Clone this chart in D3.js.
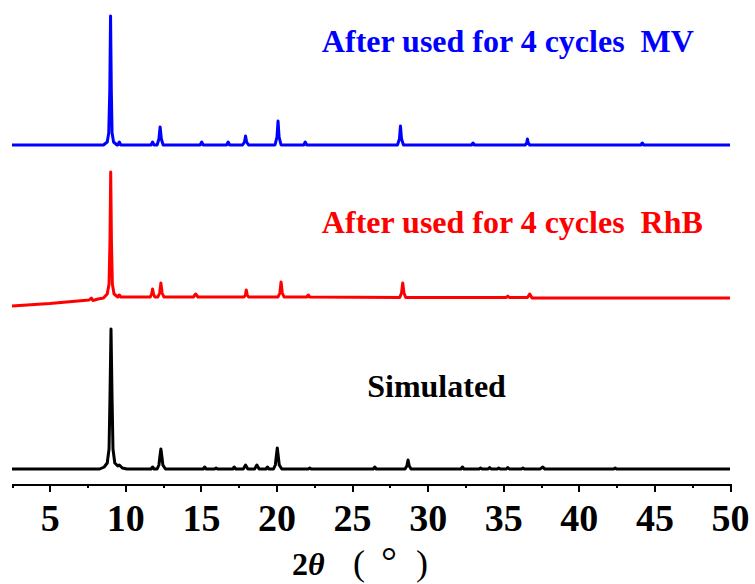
<!DOCTYPE html>
<html lang="en">
<head>
    <meta charset="UTF-8">
    <title>XRD</title>
    <style>
        body { margin: 0; background: #fff; }
    </style>
</head>
<body>
<div id="sv"></div>
<script src="https://cdn.jsdelivr.net/npm/d3@7"></script>
<script>
    // 2theta (deg), intensity (a.u.)
    var mvData = [
        [2.5,0],[8.55,0],[8.8,3],[8.9,12],[8.97,55],[9.02,129],[9.07,55],[9.12,12],[9.22,3],[9.45,0],
        [9.5,0],[9.6,3],[9.7,0],
        [11.7,0],[11.8,3],[11.9,0],
        [12.1,0],[12.22,6],[12.3,18],[12.38,6],[12.5,0],
        [14.95,0],[15.05,3],[15.15,0],
        [16.7,0],[16.8,3],[16.9,0],
        [17.75,0],[17.88,3],[17.95,9],[18.02,3],[18.15,0],
        [19.9,0],[20.03,8],[20.1,24],[20.17,8],[20.3,0],
        [21.8,0],[21.9,3],[22.0,0],
        [28.0,0],[28.13,6],[28.2,19],[28.27,6],[28.4,0],
        [32.9,0],[33.0,2],[33.1,0],
        [36.45,0],[36.55,2],[36.6,6],[36.65,2],[36.75,0],
        [44.1,0],[44.2,2],[44.3,0],
        [50,0]
    ];
    var rhbData = [
        [2.5,-8],[5,-5.5],[7.6,-2],[7.75,0],[7.85,-2.5],[8.2,-1],[8.55,0],[8.8,4],[8.92,14],[8.98,55],
        [9.03,126],[9.08,55],[9.14,14],[9.25,4],[9.5,1],
        [9.6,3],[9.7,1],
        [11.65,1],[11.74,4],[11.8,9],[11.86,4],[11.95,1],
        [12.15,1],[12.27,5],[12.35,15],[12.43,5],[12.55,1],
        [14.5,1],[14.65,4],[14.8,1],
        [17.85,1],[17.94,3],[18.0,8],[18.06,3],[18.15,1],
        [20.1,1],[20.22,5],[20.3,16],[20.38,5],[20.5,1],
        [22.0,1],[22.1,3],[22.2,1],
        [28.15,0.5],[28.27,5],[28.35,15],[28.43,5],[28.55,0.5],
        [35.2,0.5],[35.3,2],[35.4,0.5],
        [36.6,0.5],[36.75,4],[36.9,0],
        [50,0]
    ];
    var simData = [
        [2.5,0],[8.3,0],[8.6,2],[8.8,6],[8.92,20],[8.98,70],[9.05,140],[9.12,70],[9.18,20],[9.3,6],
        [9.5,3],[9.6,4],[9.8,1],[10.1,0],
        [11.7,0],[11.8,2],[11.9,0],
        [12.1,0],[12.22,4],[12.28,12],[12.35,20],[12.42,12],[12.48,4],[12.65,0],
        [15.15,0],[15.25,2],[15.35,0],
        [15.9,0],[16.0,1],[16.1,0],
        [17.1,0],[17.2,2],[17.3,0],
        [17.8,0],[17.95,4],[18.1,0],
        [18.55,0],[18.7,4],[18.85,0],
        [19.3,0],[19.4,2],[19.5,0],
        [19.8,0],[19.92,4],[19.98,12],[20.05,21],[20.12,12],[20.18,4],[20.35,0],
        [22.1,0],[22.2,1],[22.3,0],
        [26.4,0],[26.5,2],[26.6,0],
        [28.5,0],[28.62,3],[28.7,9],[28.78,3],[28.9,0],
        [32.2,0],[32.3,2],[32.4,0],
        [33.4,0],[33.5,1],[33.6,0],
        [34.0,0],[34.1,1.5],[34.2,0],
        [34.6,0],[34.7,1],[34.8,0],
        [35.2,0],[35.3,1.5],[35.4,0],
        [36.2,0],[36.3,1],[36.4,0],
        [37.45,0],[37.6,2],[37.75,0],
        [42.3,0],[42.4,1],[42.5,0],
        [50,0]
    ];

    var seriesNames = ["After used for 4 cycles  MV", "After used for 4 cycles  RhB", "Simulated"];
    var majorTicks = [5, 10, 15, 20, 25, 30, 35, 40, 45, 50];
    var minorTicks = [2.5, 7.5, 12.5, 17.5, 22.5, 27.5, 32.5, 37.5, 42.5, 47.5];

    var width = 755, height = 584;
    var axisY = 484;
    var serif = "Liberation Serif";

    var x = d3.scaleLinear().domain([2.5, 50]).range([12, 730]);
    var y = d3.scaleLinear().domain([0, 484]).range([484, 0]);

    // vertical stacking of the patterns
    var traces = [
        {data: mvData,  offset: 339, color: "#0000ff", name: seriesNames[0], lx: 23.0, ly: 52},
        {data: rhbData, offset: 186, color: "#ff0000", name: seriesNames[1], lx: 23.0, ly: 233},
        {data: simData, offset: 15,  color: "#000000", name: seriesNames[2], lx: 26.0, ly: 397}
    ];

    var svg = d3.select("#sv").append("svg")
        .attr("width", width)
        .attr("height", height);

    traces.forEach(function (t) {
        var line = d3.line()
            .x(d => x(d[0]))
            .y(d => y(d[1] + t.offset));
        svg.append("path")
            .datum(t.data)
            .attr("fill", "none")
            .attr("stroke", t.color)
            .attr("stroke-width", 3)
            .attr("stroke-linejoin", "round")
            .attr("d", line);
        svg.append("text")
            .attr("x", x(t.lx))
            .attr("y", t.ly)
            .attr("fill", t.color)
            .attr("font-family", serif)
            .attr("font-weight", "bold")
            .attr("font-size", 32)
            .attr("xml:space", "preserve")
            .style("white-space", "pre")
            .text(t.name);
    });

    function styleAxis(g) {
        g.selectAll("path, line").attr("stroke", "#000").attr("stroke-width", 2).attr("shape-rendering", "crispEdges");
        g.attr("font-family", serif).attr("font-size", 38).attr("font-weight", "bold");
    }

    // minor ticks
    svg.append("g")
        .attr("transform", `translate(0,${axisY})`)
        .call(d3.axisBottom(x).tickValues(minorTicks).tickSize(4).tickSizeOuter(0).tickFormat(""))
        .call(styleAxis);

    var xa = svg.append("g")
        .attr("transform", `translate(0,${axisY})`)
        .call(d3.axisBottom(x).tickValues(majorTicks).tickSize(8).tickSizeOuter(0).tickPadding(12).tickFormat(d3.format("d")))
        .call(styleAxis);
    xa.selectAll("text").attr("fill", "#000").attr("dy", "0.71em");

    // axis title 2θ（°）
    var title = svg.append("text")
        .attr("y", 575)
        .attr("font-family", serif)
        .attr("font-size", 32)
        .attr("fill", "#000");
    title.append("tspan").attr("x", 292).attr("font-weight", "bold").text("2");
    title.append("tspan").attr("font-weight", "bold").attr("font-style", "italic").text("θ");
    title.append("tspan").attr("x", 353).attr("font-size", 36).text("(");
    title.append("tspan").attr("x", 381).attr("font-size", 40).text("°");
    title.append("tspan").attr("x", 416).attr("font-size", 36).text(")");
</script>
</body>
</html>
